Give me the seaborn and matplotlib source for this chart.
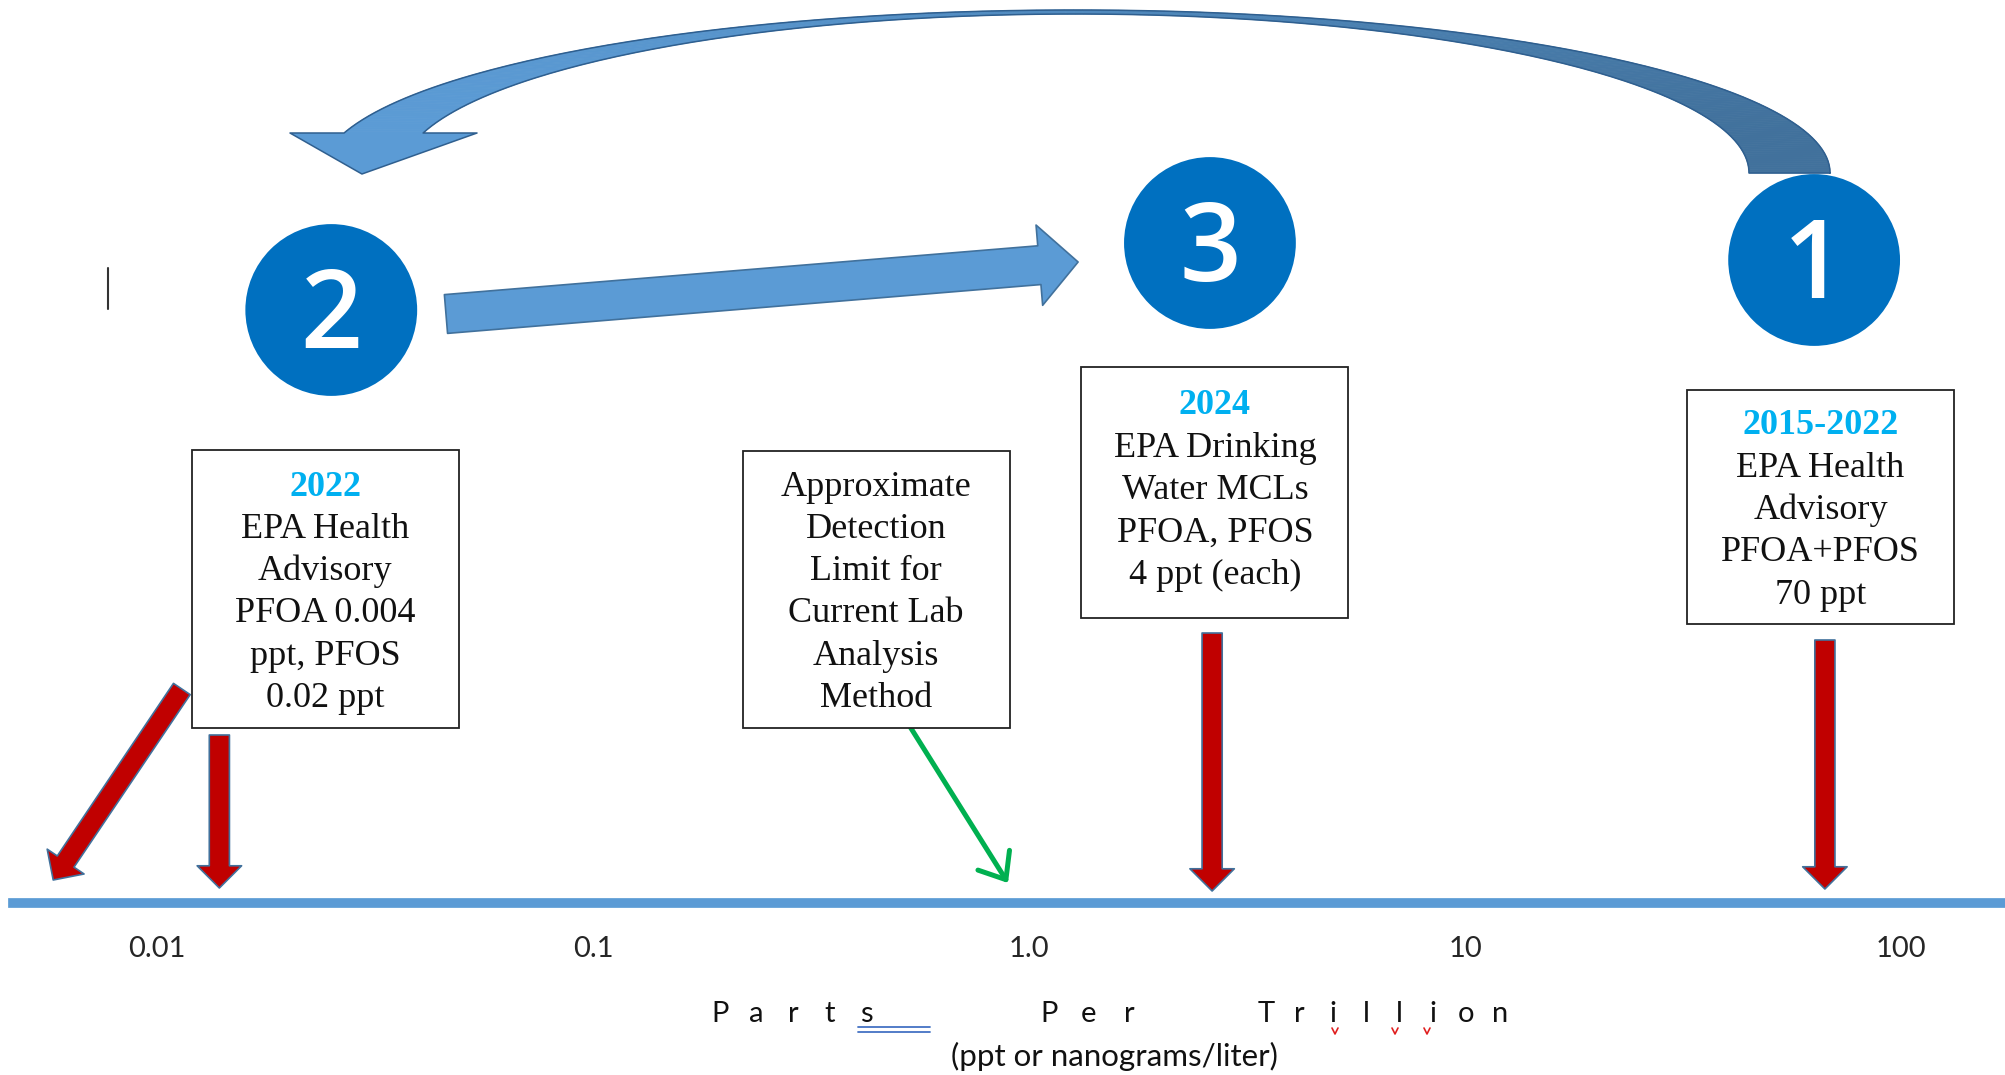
import numpy as np
import matplotlib
matplotlib.use("Agg")
import matplotlib.pyplot as plt
import seaborn as sns
from matplotlib.patches import Rectangle, Polygon
from matplotlib.lines import Line2D
from matplotlib.colors import to_rgb
from matplotlib.ticker import NullLocator

# eje: partes por trillon (escala log)
tick_values = [0.01, 0.1, 1.0, 10, 100]
tick_labels = ["0.01", "0.1", "1.0", "10", "100"]

# circulos numerados
circle_labels = ["2", "3", "1"]
circle_x = [0.0251, 2.60, 63.2]
circle_y = [593, 660, 643]

# cuadros de texto
box_x = [0.0243, 0.446, 2.67, 65.4]
box_top = [453, 452, 536, 513]
box_bottom = [175, 175, 285, 279]
box_year = ["2022", "", "2024", "2015-2022"]
box_lines = [
    ["EPA Health", "Advisory", "PFOA 0.004", "ppt, PFOS", "0.02 ppt"],
    ["Approximate", "Detection", "Limit for", "Current Lab", "Analysis", "Method"],
    ["EPA Drinking", "Water MCLs", "PFOA, PFOS", "4 ppt (each)"],
    ["EPA Health", "Advisory", "PFOA+PFOS", "70 ppt"],
]
box_first_line = [416, 416, 497, 477]

# flechas rojas (cola -> punta)
red_tail_x = [0.0114, 0.0139, 2.63, 66.9]
red_tail_y = [214, 168, 270, 263]
red_tip_x = [0.00578, 0.0139, 2.63, 66.9]
red_tip_y = [23, 15, 12, 14]

# flecha verde (limite de deteccion)
green_tail = (0.534, 176)
green_tip = (0.895, 20)

# flecha azul recta 2 -> 3
blue_tail = (0.0460, 589)
blue_tip = (1.296, 641)

W, H = 2005, 1075
LIGHT = "#5B9BD5"
DARK = "#41719C"
RED = "#C00000"
CYAN = "#00B0F0"

sns.set_style("white")
plt.rcParams["font.family"] = ["Liberation Serif", "DejaVu Serif"]

fig = plt.figure(figsize=(W / 100, H / 100), dpi=100)
ax = fig.add_axes([13 / W, 172 / H, 1992 / W, 903 / H])
ax.set_xscale("log")
ax.set_xlim(10 ** -2.3303, 10 ** 2.2385)
ax.set_ylim(0, 903)

for s in ["top", "left", "right"]:
    ax.spines[s].set_visible(False)
ax.spines["bottom"].set_color(LIGHT)
ax.spines["bottom"].set_linewidth(7)
ax.set_xticks(tick_values)
ax.set_xticklabels(tick_labels, fontfamily="Lato", fontsize=21)
ax.xaxis.set_minor_locator(NullLocator())
ax.set_yticks([])
ax.tick_params(axis="x", length=0, pad=24)

# circulos
sns.scatterplot(x=circle_x, y=circle_y, s=15300, color="#0070C0",
                edgecolor="none", ax=ax, legend=False, zorder=4)
for lab, cx, cy in zip(circle_labels, circle_x, circle_y):
    ax.text(cx, cy - 38, lab, ha="center", va="baseline", color="white",
            fontsize=78, fontfamily="Open Sans", fontweight="semibold", zorder=5)

# cuadros
half_w = 0.3062
for i in range(len(box_x)):
    lc = np.log10(box_x[i])
    x0, x1 = 10 ** (lc - half_w), 10 ** (lc + half_w)
    ax.add_patch(Rectangle((x0, box_bottom[i]), x1 - x0, box_top[i] - box_bottom[i],
                           facecolor="white", edgecolor="#222222", lw=1.3, zorder=3))
    y = box_first_line[i]
    if box_year[i]:
        ax.text(box_x[i], y, box_year[i], ha="center", va="center", color=CYAN,
                fontsize=26, fontweight="bold", zorder=4)
        y -= 42.3
    for line in box_lines[i]:
        ax.text(box_x[i], y, line, ha="center", va="center", color="#111111",
                fontsize=26, zorder=4)
        y -= 42.3

# flechas rojas
for tx, ty, hx, hy in zip(red_tail_x, red_tail_y, red_tip_x, red_tip_y):
    ax.annotate("", xy=(hx, hy), xytext=(tx, ty),
                arrowprops=dict(arrowstyle="simple,head_length=16,head_width=32,tail_width=14.5",
                                mutation_scale=1, fc=RED, ec=DARK, lw=1.2,
                                shrinkA=0, shrinkB=0), zorder=2)

# flecha verde
ax.annotate("", xy=green_tip, xytext=green_tail,
            arrowprops=dict(arrowstyle="->,head_length=16.5,head_width=13.4",
                            mutation_scale=1, color="#00B050", lw=3.6,
                            shrinkA=0, shrinkB=0), zorder=2)

# flecha azul recta
ax.annotate("", xy=blue_tip, xytext=blue_tail,
            arrowprops=dict(arrowstyle="simple,head_length=28,head_width=58,tail_width=28",
                            mutation_scale=1, fc=LIGHT, ec=DARK, lw=1.2,
                            shrinkA=0, shrinkB=0), zorder=2)

# flecha curva 1 -> 2 (arco eliptico en decadas / px)
def arco(cl, al, cy, b, th_end, n=240):
    th = np.linspace(0, th_end, n)
    return cl + al * np.cos(th), cy + b * np.sin(th)

oL, oy = arco(0.1067, 1.7305, 730, 163, np.pi - np.arcsin(40 / 163))
iL, iy = arco(0.1060, 1.5454, 730, 159, np.pi - np.arcsin(40 / 159))
c_light, c_dark = np.array(to_rgb(LIGHT)), np.array(to_rgb(DARK))
for k in range(len(oL) - 1):
    f = np.clip((oL[k] + 1.6) / 3.4, 0, 1) ** 1.3
    col = c_light * (1 - f) + c_dark * f
    quad = [(10 ** oL[k], oy[k]), (10 ** oL[k + 1], oy[k + 1]),
            (10 ** iL[k + 1], iy[k + 1]), (10 ** iL[k], iy[k])]
    ax.add_patch(Polygon(quad, closed=True, fc=col, ec=col, lw=0.6, zorder=2))
head = [(10 ** oL[-1], oy[-1]), (10 ** -1.695, 770), (10 ** -1.530, 729),
        (10 ** -1.266, 770), (10 ** iL[-1], iy[-1])]
ax.add_patch(Polygon(head, closed=True, fc=LIGHT, ec="none", zorder=2))
outline_x = np.concatenate([10 ** oL, [h[0] for h in head[1:]], 10 ** iL[::-1], [10 ** oL[0]]])
outline_y = np.concatenate([oy, [h[1] for h in head[1:]], iy[::-1], [oy[0]]])
ax.plot(outline_x, outline_y, color="#2F5F8F", lw=1.1, zorder=2.5)

# cursor de texto
ax.plot([0.00772, 0.00772], [594, 635], color="#333333", lw=1.5)

# etiqueta del eje, letras espaciadas
words = [("Parts", 720, 36.5), ("Per", 1049, 40), ("Trillion", 1266, 33.4)]
for word, x0, step in words:
    for j, ch in enumerate(word):
        fig.text((x0 + j * step) / W, 1 - 1014 / H, ch, ha="center", va="center",
                 fontsize=21, fontfamily="Lato", color="#111111")
fig.text(1114 / W, 1 - 1056 / H, "(ppt or nanograms/liter)", ha="center", va="center",
         fontsize=22.5, fontfamily="Lato", color="#111111")

# marcas de correccion ortografica
for yy in [1027, 1032]:
    fig.add_artist(Line2D([858 / W, 930 / W], [1 - yy / H] * 2, color="#4472C4",
                          lw=1.3, transform=fig.transFigure))
for xx in [1335, 1395, 1427]:
    fig.add_artist(Line2D([(xx - 3) / W, xx / W, (xx + 3) / W],
                          [1 - 1028 / H, 1 - 1034 / H, 1 - 1028 / H],
                          color="#E02020", lw=1.2, transform=fig.transFigure))

fig.savefig("out.png", dpi=100)
